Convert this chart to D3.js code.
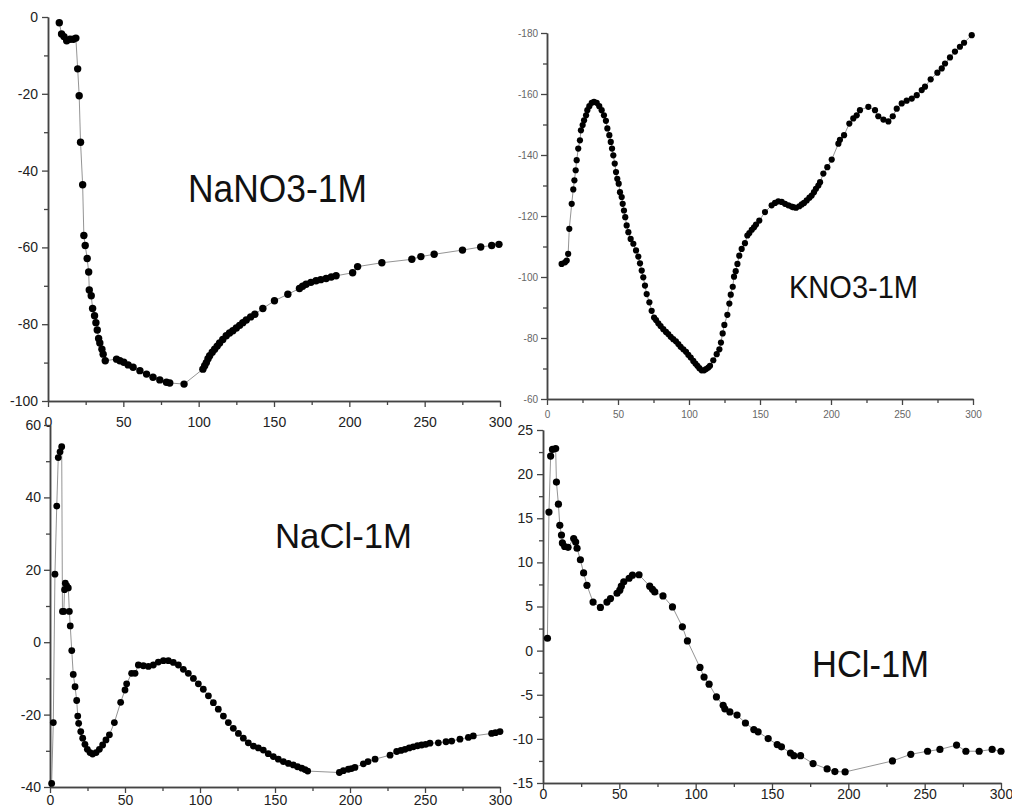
<!DOCTYPE html>
<html><head><meta charset="utf-8">
<script src="https://cdn.jsdelivr.net/npm/d3@7"></script>
<style>body{margin:0;background:#fff}svg{display:block}text{font-family:Arial,"Liberation Sans",sans-serif}</style>
</head><body>
<script>
// ---------- DATA ----------
const titles = ["NaNO3-1M", "KNO3-1M", "NaCl-1M", "HCl-1M"];
const xTicks = [0, 50, 100, 150, 200, 250, 300];
const xMinorTicks = [25, 75, 125, 175, 225, 275];

const nano3X = [7.5,9,10.6,12.4,14.6,16.8,18.5,19.7,20.7,21.6,23,23.8,24.7,26,27,27.4,28.7,29.6,30.9,31.8,32.7,33.6,34.4,35.8,36.6,38,45.5,47.7,50.3,53.2,56.5,61,65.4,69.7,74.2,78.6,80.8,90.3,102.8,104,105.1,106.2,107.3,109,110.6,112.3,113.9,116,118.3,120.5,122.7,125,127.2,129.3,131.6,134.5,137.3,142.6,150.3,159.2,166.9,169,171.3,174.5,177.9,181,184.6,188,191.2,202.2,205.5,221.6,241.5,247.5,256.3,275.1,287.2,294.5,299.3];
const nano3Y = [-1.5,-4.4,-5.1,-6.2,-5.8,-5.8,-5.5,-13.5,-20.5,-32.6,-43.7,-56.9,-59.5,-62.9,-66.4,-71.1,-72.6,-75.9,-77.8,-79.6,-81.5,-83.7,-84.9,-86.5,-87.8,-89.5,-89.1,-89.5,-89.9,-90.6,-91.2,-92.1,-93,-93.8,-94.5,-95.1,-95.3,-95.6,-91.7,-90.8,-90,-89,-88.2,-87.3,-86.5,-85.7,-84.9,-84,-83,-82.3,-81.7,-81,-80.3,-79.6,-78.9,-78.1,-77.4,-75.9,-73.9,-72.2,-70.7,-70.1,-69.6,-69.1,-68.7,-68.4,-68.1,-67.7,-67.4,-66.6,-65,-64,-63.1,-62.4,-61.8,-60.7,-59.9,-59.5,-59.2];
const nano3YTicks = [0, -20, -40, -60, -80, -100];
const nano3YMinor = [-10, -30, -50, -70, -90];

const kno3X = [10.3,12.7,13.9,14.9,15.7,17.4,18.5,19.3,20.2,20.9,22,23.2,23.9,25.1,26.1,27.5,28.4,29.8,31.5,33.1,35,36.8,38.5,40.1,41.5,42.5,43.9,44.9,45.8,46.7,47.7,48.6,49.5,50.5,51.4,52.6,53.3,54.2,55.1,56.1,57.3,58.9,60.8,62.7,64.3,65.5,66.7,67.8,69,70.2,72.1,73.7,75.4,76.8,78.4,80,81.9,83.8,85.4,87.1,88.9,90.8,92.5,94.1,96,97.9,99.5,101.2,103,104.5,105.9,107.3,108.9,110.6,112,113.6,114.8,117.1,119.5,121.4,122.5,123.7,124.9,127,128.4,129.4,130.8,131.7,132.9,134.1,135.4,137.1,139.4,141.1,142.5,144.2,145.8,147.2,149.5,153.5,158.2,160.6,162.9,165.3,167.6,170,172.3,173.5,175.4,177.7,179.4,181,182.9,184.8,186.4,188,189.4,191.1,192.3,194.6,197.4,200.5,205.2,206.3,209.2,212.9,215.7,218.1,220.4,226.3,231,233.3,236.9,240.4,243.5,246.3,249.8,253.3,256.9,260.4,263.9,266.2,270.2,274.9,278,280.3,283.8,287.3,290.8,293.7,299.1];
const kno3Y = [-104.3,-104.8,-105.4,-107.6,-115.8,-124,-128.7,-131.7,-135,-138.3,-142.1,-144.8,-148.1,-149.8,-151.4,-153,-154.7,-156,-157.1,-157.4,-157.1,-156,-154.7,-153,-151.2,-148.7,-146.5,-144.3,-142.1,-139.9,-137.2,-134.4,-132.2,-130.6,-127.8,-126.2,-124,-121.8,-119.6,-116.9,-114.7,-112.5,-110.9,-108.7,-106.7,-104.5,-102.1,-99.9,-97.2,-94.4,-91.7,-88.9,-86.7,-85.9,-84.8,-83.9,-82.9,-82,-81.3,-80.4,-79.6,-78.9,-78,-77.1,-76.3,-75.5,-74.5,-73.6,-72.5,-71.6,-70.9,-70.1,-69.4,-69.4,-69.8,-70.3,-70.9,-72.7,-74.7,-76.3,-78.5,-81.5,-84.3,-87.6,-91.3,-94.2,-96.8,-100.1,-101.9,-104.3,-107,-109.2,-111.1,-113.6,-114.4,-115.5,-116.3,-117.2,-118.5,-121.3,-123.5,-124.3,-124.8,-124.6,-124,-123.5,-123.1,-122.9,-122.7,-123.2,-123.8,-124.3,-125.1,-126,-126.7,-127.8,-128.9,-130,-131.1,-133.9,-136,-138.5,-143.7,-145,-146.5,-150.3,-152,-153,-154.7,-155.8,-154.7,-152.7,-151.6,-151,-152.7,-155.2,-156.9,-157.8,-158.5,-159.6,-161.3,-162.4,-164.8,-167,-168.4,-170,-172,-173.9,-175.5,-176.8,-179.3];
const kno3YTicks = [-180, -160, -140, -120, -100, -80, -60];
const kno3YMinor = [-170, -150, -130, -110, -90, -70];

const naclX = [1.1,2.2,3.3,4.5,5.5,6.7,7.8,8.3,9.2,9.7,10.2,11.1,12.2,12.9,13.5,14.5,15.5,16.7,17.8,18.5,19.1,20.5,21.8,23.3,24.9,26.7,28.4,30.7,32.9,35.1,37.3,39.6,42.9,47.1,50,51.1,54.4,56.7,58.9,62.2,65.6,68.9,72.2,75.6,78.9,82.2,85.6,88.9,92.2,95.6,98.9,102.2,105.6,108.9,112.2,115.6,118.9,122.2,125.6,128.9,132.2,135.6,138.9,142.2,145.5,148.9,152.2,155.6,158.9,162.2,165,167.8,170,171.8,192.9,195.6,198.9,201,203.3,208.9,212,216.7,226.7,231.1,234,236.7,239.5,242.2,245,247.8,250.5,253.3,258.9,264,267.8,273.3,278.9,282.2,294.4,297,300];
const naclY = [-39,-22.2,18.8,37.6,51,52.6,54,8.5,8.5,14.5,16.3,15.6,15,8.5,4.5,-2.3,-8.9,-12.3,-16.1,-20.4,-22.4,-24.7,-26.5,-28.2,-29.6,-30.5,-30.9,-30.5,-29.6,-28.4,-27,-25.6,-22.2,-16.6,-13.2,-11.5,-8.6,-8.6,-6.3,-6.5,-6.7,-6.3,-5.5,-5.1,-5.1,-5.6,-6.3,-7.5,-8.6,-10,-11.5,-13,-14.8,-16.7,-18.5,-20.4,-22.2,-23.8,-25.2,-26.5,-27.8,-28.7,-29.2,-29.8,-30.8,-31.6,-32.3,-33,-33.5,-33.9,-34.4,-34.8,-35.2,-35.6,-36,-35.5,-35.1,-34.9,-34.6,-33.6,-33,-32.3,-31.2,-30.2,-29.9,-29.6,-29.2,-28.9,-28.6,-28.4,-28.2,-27.9,-27.8,-27.5,-27.3,-26.8,-26.3,-25.9,-25.2,-25,-24.7];
const naclYTicks = [60, 40, 20, 0, -20, -40];
const naclYMinor = [50, 30, 10, -10, -30];

const hclX = [2.9,3.9,5,6.2,8.3,8.8,10.1,11,12.1,12.7,14.2,16.4,20.1,21.4,22.3,24.5,26.6,28.8,32.8,37.6,41.9,44.2,48.5,50.3,51.3,52.9,56.4,58.6,62.9,69.9,71.7,73.2,78.6,84.8,91.3,94.6,102.8,105.5,108.8,113.6,118,119.1,122.4,127.1,132.6,138.1,140.9,147.5,153.4,156.2,162.1,164.3,168.7,176.9,186.1,191.2,197.9,228.9,240.9,251.9,260,270.9,277,285.7,294.2,300];
const hclY = [1.4,15.7,22.05,22.8,22.9,19.1,16.6,14.2,13.1,12.2,11.8,11.7,12.7,12.3,11.6,10.3,8.8,7.4,5.5,4.9,5.5,5.9,6.5,6.85,7.3,7.8,8.2,8.55,8.6,7.3,6.95,6.65,6.2,4.95,2.7,1.1,-1.9,-3,-3.8,-5.25,-6.2,-6.6,-6.95,-7.3,-8.2,-8.95,-9.2,-9.97,-10.65,-10.9,-11.6,-11.9,-11.9,-12.8,-13.4,-13.7,-13.75,-12.5,-11.75,-11.4,-11.2,-10.7,-11.4,-11.4,-11.2,-11.4];
const hclYTicks = [25, 20, 15, 10, 5, 0, -5, -10, -15];
const hclYMinor = [22.5, 17.5, 12.5, 7.5, 2.5, -2.5, -7.5, -12.5];

// ---------- LAYOUT (positions / styles) ----------
const panels = [
  {title: titles[0], xs: nano3X, ys: nano3Y, yTicks: nano3YTicks, yMinor: nano3YMinor, yDomain: [-100, 0],
   xRange: [48, 500], yRange: [401, 17], r: 3.7, font: 14, color: "#222", xPad: 10, yPad: 4,
   tx: 188, ty: 202, tw: 179, ts: 38},
  {title: titles[1], xs: kno3X, ys: kno3Y, yTicks: kno3YTicks, yMinor: kno3YMinor, yDomain: [-60, -180],
   xRange: [547, 973], yRange: [399, 33], r: 3.1, font: 10, color: "#666", xPad: 6, yPad: 3,
   tx: 789, ty: 298, tw: 129, ts: 32},
  {title: titles[2], xs: naclX, ys: naclY, yTicks: naclYTicks, yMinor: naclYMinor, yDomain: [-40, 60],
   xRange: [50, 500], yRange: [787, 425], r: 3.4, font: 14, color: "#222", xPad: 2, yPad: 3,
   tx: 275, ty: 548, tw: 137, ts: 35},
  {title: titles[3], xs: hclX, ys: hclY, yTicks: hclYTicks, yMinor: hclYMinor, yDomain: [-15, 25],
   xRange: [543, 1001], yRange: [783, 430], r: 3.6, font: 14, color: "#222", xPad: 0, yPad: 4,
   tx: 812, ty: 677, tw: 117, ts: 37}
];

const svg = d3.select("body").append("svg").attr("width", 1012).attr("height", 812);
svg.append("rect").attr("width", 1012).attr("height", 812).attr("fill", "#fff");

panels.forEach(p => {
  const x = d3.scaleLinear().domain([0, 300]).range(p.xRange);
  const y = d3.scaleLinear().domain(p.yDomain).range(p.yRange);
  const g = svg.append("g");
  const fmt = d => String(d);

  const style = sel => {
    sel.select(".domain").attr("stroke", "#444").attr("stroke-width", 1.5);
    sel.selectAll(".tick line").attr("stroke", "#444").attr("stroke-width", 1.3);
    sel.selectAll("text").attr("fill", p.color).attr("font-size", p.font)
       .attr("font-family", "Arial, 'Liberation Sans', sans-serif");
  };

  // minor ticks
  g.append("g").attr("transform", `translate(0,${p.yRange[0]})`)
    .call(d3.axisBottom(x).tickValues(xMinorTicks).tickSize(4).tickSizeOuter(0).tickFormat(""))
    .call(style);
  g.append("g").attr("transform", `translate(${p.xRange[0]},0)`)
    .call(d3.axisLeft(y).tickValues(p.yMinor).tickSize(4).tickSizeOuter(0).tickFormat(""))
    .call(style);
  // major
  g.append("g").attr("transform", `translate(0,${p.yRange[0]})`)
    .call(d3.axisBottom(x).tickValues(xTicks).tickSize(6).tickSizeOuter(0).tickPadding(p.xPad).tickFormat(fmt))
    .call(style);
  g.append("g").attr("transform", `translate(${p.xRange[0]},0)`)
    .call(d3.axisLeft(y).tickValues(p.yTicks).tickSize(6).tickSizeOuter(0).tickPadding(p.yPad).tickFormat(fmt))
    .call(style);

  const pts = p.xs.map((v, i) => [v, p.ys[i]]);
  g.append("path").datum(pts)
    .attr("fill", "none").attr("stroke", "#888").attr("stroke-width", 0.9)
    .attr("d", d3.line().x(d => x(d[0])).y(d => y(d[1])));
  g.append("g").selectAll("circle").data(pts).join("circle")
    .attr("cx", d => x(d[0])).attr("cy", d => y(d[1])).attr("r", p.r).attr("fill", "#000");

  g.append("text").attr("x", p.tx).attr("y", p.ty)
    .attr("font-size", p.ts).attr("fill", "#111")
    .attr("textLength", p.tw).attr("lengthAdjust", "spacingAndGlyphs")
    .text(p.title);
});
</script>
</body></html>
